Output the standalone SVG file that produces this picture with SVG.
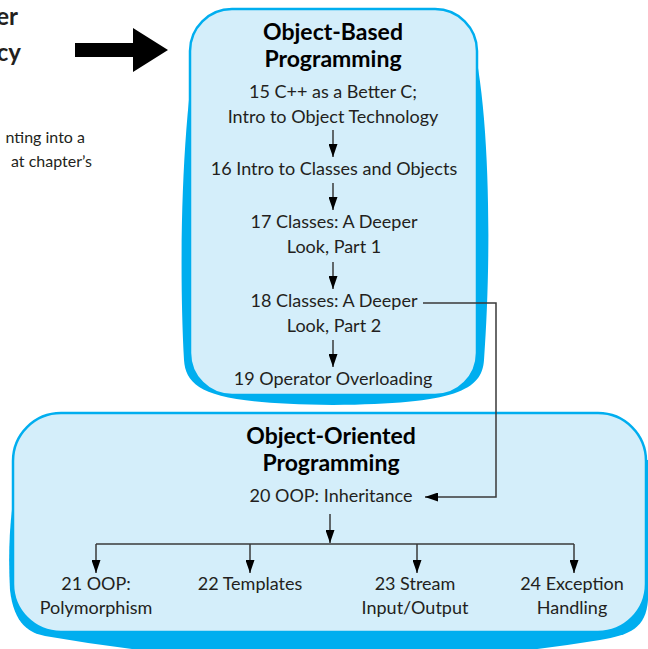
<svg xmlns="http://www.w3.org/2000/svg" width="648" height="649" viewBox="0 0 648 649">
<style>
.t{font-family:Lato,"Open Sans","DejaVu Sans",sans-serif;font-size:18px;fill:#231f20;text-anchor:middle}
.h{font-family:Lato,"Open Sans","DejaVu Sans",sans-serif;font-size:23px;font-weight:bold;fill:#000;text-anchor:middle}
.side{font-family:Lato,"Open Sans","DejaVu Sans",sans-serif;fill:#231f20}
.shadow{fill:#00aeef}
.panel{fill:#d4eefa;stroke:#00aeef;stroke-width:2.5}
.ln{fill:none;stroke:#3a3a3a;stroke-width:1.5}
</style>
<defs>
<marker id="ah" markerWidth="13" markerHeight="9" refX="13" refY="4.5" orient="auto" markerUnits="userSpaceOnUse">
<path d="M0,0 L13,4.5 L0,9 Z" fill="#000"/>
</marker>
</defs>
<rect width="648" height="649" fill="#fff"/>
<g id="side-text">
<text class="side" x="18" y="25" font-size="24" font-weight="bold" text-anchor="end">er</text>
<text class="side" x="21" y="61" font-size="24" font-weight="bold" text-anchor="end">cy</text>
<text class="side" x="85" y="143" font-size="16" text-anchor="end">nting into a</text>
<text class="side" x="92" y="167" font-size="16" text-anchor="end">at chapter’s</text>
</g>
<g id="big-arrow">
<path d="M75,43 L133,43 L133,28 L168,50 L133,72 L133,57 L75,57 Z" fill="#000"/>
</g>
<g id="object-based">
<path class="shadow" d="M200,30 C183,100 178,250 184,360 C186,390 210,404 333,405 C456,404 482,390 484,360 C492,250 490,100 470,30 Z"/>
<rect class="panel" x="190" y="9" width="287" height="386" rx="42"/>
<text class="h" x="333" y="40">Object-Based</text>
<text class="h" x="333" y="67">Programming</text>
</g>
<g id="object-oriented">
<path class="shadow" d="M60,415 C15,430 6,520 10,590 C14,625 30,633 45,636 Q324,685 600,640 C630,635 646,628 648,600 L648,460 Z"/>
<rect class="panel" x="13" y="413" width="633" height="219" rx="48"/>
<text class="h" x="331" y="444">Object-Oriented</text>
<text class="h" x="331" y="471">Programming</text>
</g>
<g id="n15"><text class="t" x="333" y="98">15 C++ as a Better C;</text><text class="t" x="333" y="123">Intro to Object Technology</text></g>
<g id="n16"><text class="t" x="334" y="175">16 Intro to Classes and Objects</text></g>
<g id="n17"><text class="t" x="334" y="228">17 Classes: A Deeper</text><text class="t" x="334" y="253">Look, Part 1</text></g>
<g id="n18"><text class="t" x="334" y="307">18 Classes: A Deeper</text><text class="t" x="334" y="332">Look, Part 2</text></g>
<g id="n19"><text class="t" x="333" y="385">19 Operator Overloading</text></g>
<g id="n20"><text class="t" x="331" y="502">20 OOP: Inheritance</text></g>
<g id="n21"><text class="t" x="96" y="590">21 OOP:</text><text class="t" x="96" y="614">Polymorphism</text></g>
<g id="n22"><text class="t" x="250" y="590">22 Templates</text></g>
<g id="n23"><text class="t" x="415" y="590">23 Stream</text><text class="t" x="415" y="614">Input/Output</text></g>
<g id="n24"><text class="t" x="572" y="590">24 Exception</text><text class="t" x="572" y="614">Handling</text></g>
<g id="connectors">
<line class="ln" x1="333" y1="130" x2="333" y2="157" marker-end="url(#ah)"/>
<line class="ln" x1="333" y1="183" x2="333" y2="210" marker-end="url(#ah)"/>
<line class="ln" x1="333" y1="262" x2="333" y2="289" marker-end="url(#ah)"/>
<line class="ln" x1="333" y1="340" x2="333" y2="367" marker-end="url(#ah)"/>
<path class="ln" d="M423,303 L496,303 L496,497 L425,497" marker-end="url(#ah)"/>
<line class="ln" x1="330" y1="514" x2="330" y2="543" marker-end="url(#ah)"/>
<line class="ln" x1="96" y1="544" x2="574" y2="544"/>
<line class="ln" x1="96" y1="544" x2="96" y2="573" marker-end="url(#ah)"/>
<line class="ln" x1="250" y1="544" x2="250" y2="573" marker-end="url(#ah)"/>
<line class="ln" x1="417" y1="544" x2="417" y2="573" marker-end="url(#ah)"/>
<line class="ln" x1="574" y1="544" x2="574" y2="573" marker-end="url(#ah)"/>
</g>
</svg>
